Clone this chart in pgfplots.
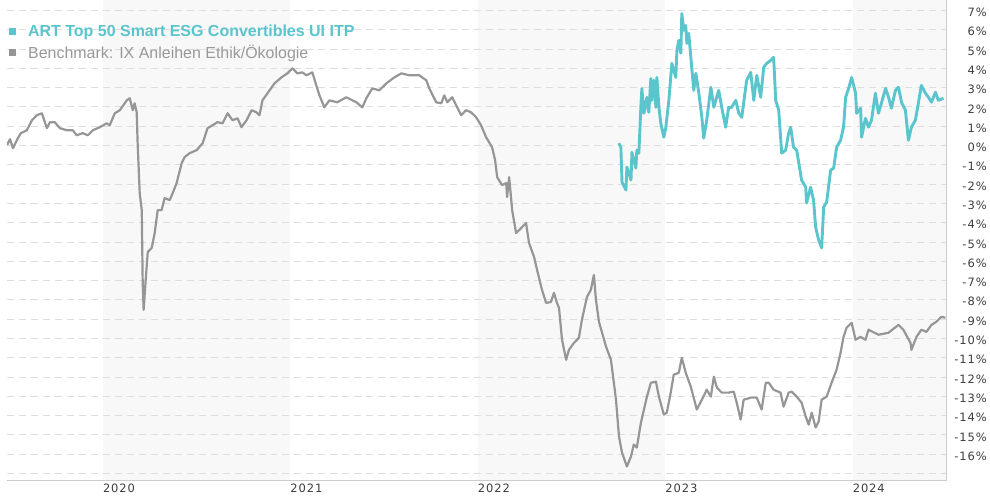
\documentclass[border=0pt]{standalone}
\usepackage{fontspec}
\setmainfont{Liberation Sans}
\newfontfamily\tickfont[LetterSpace=8]{DejaVu Sans}
\usepackage{pgfplots}
\pgfplotsset{compat=1.18}
\definecolor{tealc}{RGB}{91,197,205}
\definecolor{benchc}{RGB}{150,150,150}
\definecolor{benchtext}{RGB}{153,153,153}
\definecolor{bandc}{RGB}{248,248,248}
\definecolor{gridc}{RGB}{222,222,222}
\definecolor{axisc}{RGB}{204,204,204}
\definecolor{tickc}{RGB}{60,60,60}

\pgfplotstableread{
t v
2019.489 0.02
2019.505 0.33
2019.521 -0.14
2019.547 0.38
2019.563 0.64
2019.595 0.79
2019.622 1.31
2019.648 1.57
2019.675 1.67
2019.702 0.90
2019.718 1.21
2019.744 1.21
2019.771 0.90
2019.808 0.79
2019.840 0.79
2019.861 0.53
2019.893 0.64
2019.920 0.53
2019.947 0.79
2019.984 0.95
2020.021 1.15
2020.037 1.05
2020.064 1.67
2020.091 1.83
2020.128 2.34
2020.144 2.45
2020.160 1.83
2020.170 2.19
2020.181 1.72
2020.186 0.12
2020.197 -2.47
2020.208 -3.35
2020.213 -7.12
2020.218 -8.52
2020.229 -6.97
2020.240 -5.52
2020.261 -5.31
2020.277 -4.54
2020.293 -3.35
2020.314 -3.35
2020.330 -2.73
2020.357 -2.83
2020.373 -2.47
2020.394 -1.95
2020.421 -0.91
2020.437 -0.60
2020.463 -0.40
2020.501 -0.24
2020.533 0.12
2020.559 0.90
2020.586 1.05
2020.612 1.21
2020.639 1.15
2020.666 1.67
2020.692 1.31
2020.719 1.41
2020.740 0.95
2020.767 1.31
2020.794 1.83
2020.820 1.72
2020.836 1.57
2020.852 2.34
2020.879 2.71
2020.916 3.22
2020.953 3.53
2020.985 3.74
2021.012 4.00
2021.038 3.74
2021.065 3.79
2021.086 3.64
2021.118 3.79
2021.139 3.12
2021.156 2.60
2021.182 1.98
2021.209 2.34
2021.251 2.24
2021.299 2.50
2021.353 2.24
2021.385 1.98
2021.406 2.45
2021.438 2.96
2021.475 2.86
2021.513 3.22
2021.555 3.53
2021.593 3.74
2021.635 3.64
2021.688 3.64
2021.726 3.38
2021.742 2.96
2021.779 2.24
2021.806 2.19
2021.822 2.60
2021.838 2.24
2021.864 2.50
2021.885 2.09
2021.912 1.57
2021.938 1.83
2021.965 1.72
2021.992 1.46
2022.018 1.05
2022.045 0.43
2022.077 -0.09
2022.093 -0.76
2022.104 -1.64
2022.130 -2.05
2022.152 -1.95
2022.157 -2.67
2022.168 -1.64
2022.184 -3.35
2022.205 -4.54
2022.232 -4.28
2022.258 -4.02
2022.274 -5.05
2022.301 -5.78
2022.317 -6.45
2022.343 -7.48
2022.365 -8.16
2022.391 -8.11
2022.407 -7.64
2022.423 -8.16
2022.434 -8.42
2022.450 -10.07
2022.472 -11.11
2022.487 -10.59
2022.514 -10.23
2022.540 -9.97
2022.556 -9.04
2022.583 -7.85
2022.604 -7.48
2022.620 -6.71
2022.631 -8.00
2022.647 -9.14
2022.685 -10.43
2022.711 -11.11
2022.738 -13.18
2022.754 -15.09
2022.770 -15.92
2022.796 -16.64
2022.818 -16.12
2022.833 -15.50
2022.849 -15.66
2022.871 -14.37
2022.887 -13.69
2022.903 -13.02
2022.924 -12.30
2022.951 -12.24
2022.967 -13.02
2022.993 -13.95
2023.009 -13.85
2023.030 -12.81
2023.046 -11.88
2023.073 -11.78
2023.089 -11.00
2023.110 -11.78
2023.137 -12.50
2023.169 -13.69
2023.196 -13.18
2023.222 -12.66
2023.244 -13.02
2023.260 -11.99
2023.276 -12.55
2023.302 -12.81
2023.339 -12.81
2023.366 -12.76
2023.382 -13.33
2023.403 -14.21
2023.419 -13.18
2023.457 -13.07
2023.489 -13.07
2023.515 -13.69
2023.537 -12.30
2023.553 -12.30
2023.579 -12.66
2023.616 -12.81
2023.632 -13.54
2023.659 -12.81
2023.675 -12.76
2023.702 -13.02
2023.728 -13.33
2023.750 -14.05
2023.766 -14.47
2023.782 -13.85
2023.803 -14.62
2023.819 -14.31
2023.835 -13.18
2023.862 -13.02
2023.888 -12.30
2023.915 -11.62
2023.936 -10.74
2023.952 -9.92
2023.968 -9.45
2023.995 -9.19
2024.016 -10.07
2024.042 -9.92
2024.069 -10.07
2024.085 -9.55
2024.138 -9.81
2024.191 -9.71
2024.245 -9.30
2024.271 -9.55
2024.309 -10.23
2024.314 -10.59
2024.341 -9.92
2024.367 -9.55
2024.394 -9.66
2024.421 -9.30
2024.447 -9.14
2024.474 -8.88
2024.495 -8.93
}\benchdata

\pgfplotstableread{
t v
2022.753 0.12
2022.764 -0.09
2022.770 -1.90
2022.791 -2.31
2022.796 -1.12
2022.818 -1.79
2022.823 -0.35
2022.844 -1.17
2022.849 -0.24
2022.860 -0.40
2022.871 2.09
2022.876 2.96
2022.887 1.67
2022.903 2.50
2022.913 1.72
2022.924 3.48
2022.929 2.34
2022.940 3.38
2022.951 1.98
2022.956 3.53
2022.967 1.98
2022.977 1.15
2022.993 0.43
2023.004 0.95
2023.020 2.34
2023.036 4.26
2023.057 3.53
2023.063 4.93
2023.073 5.45
2023.084 4.78
2023.089 6.84
2023.100 5.97
2023.110 6.22
2023.116 5.29
2023.126 5.81
2023.142 4.05
2023.153 2.86
2023.164 3.74
2023.180 2.71
2023.196 1.46
2023.206 0.38
2023.222 1.31
2023.244 3.02
2023.260 1.98
2023.286 2.86
2023.302 1.98
2023.323 0.95
2023.339 1.98
2023.355 1.98
2023.377 2.34
2023.393 1.67
2023.409 1.46
2023.435 3.38
2023.457 3.79
2023.473 2.34
2023.489 3.64
2023.510 2.50
2023.526 4.05
2023.542 4.26
2023.563 4.41
2023.579 4.57
2023.590 2.34
2023.606 1.83
2023.622 -0.40
2023.643 -0.24
2023.659 0.64
2023.670 0.95
2023.685 -0.09
2023.702 -0.24
2023.728 -1.79
2023.750 -2.16
2023.755 -2.98
2023.776 -2.16
2023.792 -2.83
2023.803 -4.23
2023.819 -4.90
2023.835 -5.31
2023.846 -3.19
2023.862 -2.93
2023.883 -1.28
2023.899 -1.17
2023.915 -0.09
2023.936 0.27
2023.952 0.95
2023.963 2.50
2023.979 2.96
2023.995 3.53
2024.016 2.71
2024.022 1.67
2024.043 1.93
2024.048 0.43
2024.069 1.41
2024.085 0.95
2024.101 1.31
2024.122 2.71
2024.138 1.67
2024.154 2.19
2024.176 2.96
2024.192 2.50
2024.207 1.93
2024.229 2.86
2024.245 3.02
2024.261 2.24
2024.282 1.83
2024.298 0.27
2024.314 0.95
2024.335 1.31
2024.351 2.19
2024.367 3.12
2024.389 2.71
2024.405 2.50
2024.421 2.24
2024.442 2.76
2024.458 2.34
2024.485 2.45
}\fonddata

\begin{document}
\begin{tikzpicture}[x=1pt,y=1pt]
\begin{axis}[
  at={(7pt,19pt)}, anchor=south west,
  scale only axis, width=941pt, height=481pt,
  xmin=2019.489, xmax=2024.500, ymin=-17.37, ymax=7.52,
  set layers,
  axis x line*=bottom, axis y line*=right,
  axis line style={draw=axisc, line width=0.9pt},
  major tick length=0pt,
  xtick={2020,2021,2022,2023,2024},
  xticklabels={2020,2021,2022,2023,2024},
  xticklabel style={anchor=north west, xshift=-3.3pt, yshift=0pt, font=\tickfont\fontsize{11.5}{13}\selectfont, text=tickc},
  ytick={-17,-16,...,7},
  yticklabels={{},-16\%,-15\%,-14\%,-13\%,-12\%,-11\%,-10\%,-9\%,-8\%,-7\%,-6\%,-5\%,-4\%,-3\%,-2\%,-1\%,0\%,1\%,2\%,3\%,4\%,5\%,6\%,7\%},
  yticklabel style={anchor=east, xshift=44pt, yshift=-2pt, font=\tickfont\fontsize{11.5}{13}\selectfont, text=tickc},
  ymajorgrids,
  major grid style={draw=gridc, dash pattern=on 7pt off 5pt, line width=0.9pt},
  legend style={at={(rel axis cs:0,1)}, anchor=north west, draw=none, fill=none,
    font=\fontsize{16}{19}\selectfont, xshift=2pt, yshift=-23pt,
    row sep=5pt, column sep=11pt, inner sep=0pt, nodes={inner sep=1pt}},
  legend cell align=left,
  legend image code/.code={\path[#1, draw=none, fill] (0pt,-4pt) rectangle (7pt,3.5pt);},
]
\addplot[on layer=axis background, fill=bandc, draw=none, forget plot] coordinates {(2020,-17.37) (2021,-17.37) (2021,7.52) (2020,7.52)} -- cycle;
\addplot[on layer=axis background, fill=bandc, draw=none, forget plot] coordinates {(2022,-17.37) (2023,-17.37) (2023,7.52) (2022,7.52)} -- cycle;
\addplot[on layer=axis background, fill=bandc, draw=none, forget plot] coordinates {(2024,-17.37) (2024.5,-17.37) (2024.5,7.52) (2024,7.52)} -- cycle;
\addplot[color=tealc, line width=2.9pt, line join=round, no marks] table[x=t,y=v] {\fonddata};
\addlegendentry{\textcolor{tealc}{\bfseries ART Top 50 Smart ESG Convertibles UI ITP}}
\addplot[color=benchc, line width=2.2pt, line join=round, no marks] table[x=t,y=v] {\benchdata};
\addlegendentry{\textcolor{benchtext}{Benchmark: IX Anleihen Ethik/Ökologie}}
\end{axis}
\path (0,0) rectangle (990,500);
\end{tikzpicture}
\end{document}
